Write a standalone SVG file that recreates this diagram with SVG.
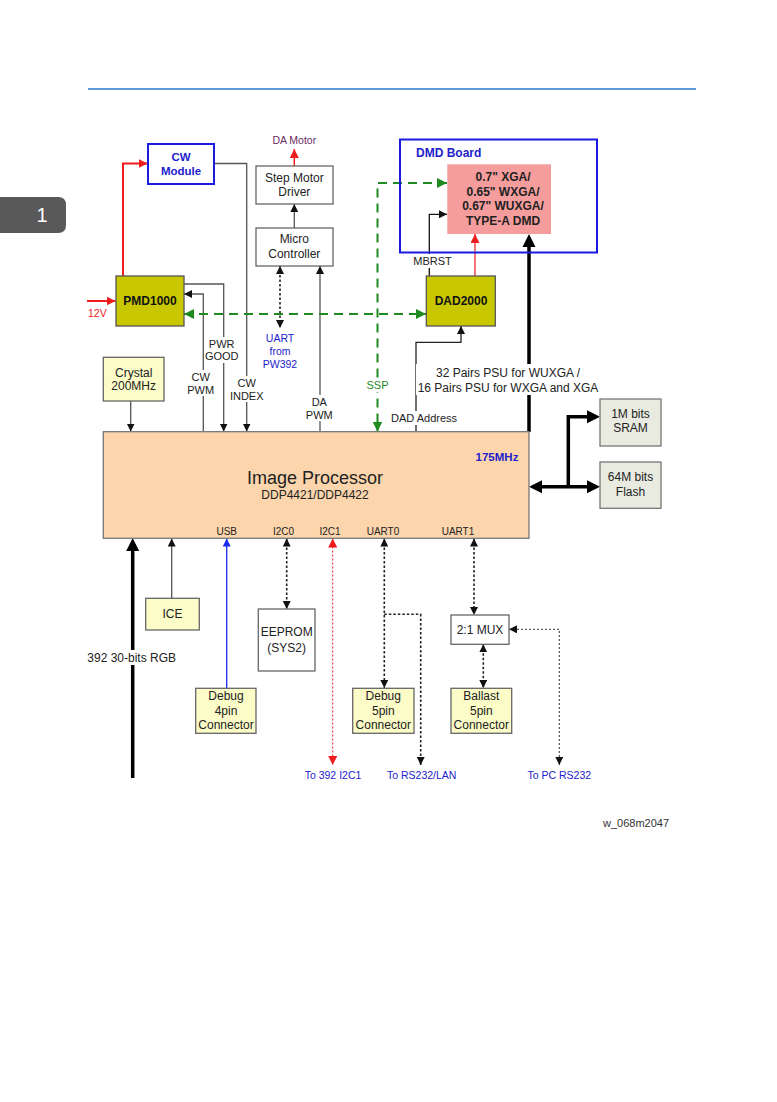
<svg xmlns="http://www.w3.org/2000/svg" width="777" height="1102" viewBox="0 0 777 1102">
<style>
.t{font-family:"Liberation Sans",Arial,sans-serif;font-size:12px;fill:#222;text-anchor:middle}
.s{font-size:11px}
.b{font-weight:bold}
.blue{fill:#2222cc}
.box{fill:#fff;stroke:#666;stroke-width:1.3}
.yel{fill:#fcfcc8;stroke:#666;stroke-width:1.3}
.olive{fill:#c9c800;stroke:#555;stroke-width:1.3}
.ln{stroke:#555;stroke-width:1.3;fill:none}
.dot{stroke:#222;stroke-width:1.6;stroke-dasharray:2.5,2;fill:none}
.bg{fill:#fff}
</style>
<defs>
<marker id="ab" viewBox="0 0 10 10" refX="10" refY="5" markerWidth="8" markerHeight="8" markerUnits="userSpaceOnUse" orient="auto-start-reverse"><path d="M0,0 L10,5 L0,10 z" fill="#111"/></marker>
<marker id="ar" viewBox="0 0 10 10" refX="10" refY="5" markerWidth="9" markerHeight="9" markerUnits="userSpaceOnUse" orient="auto-start-reverse"><path d="M0,0 L10,5 L0,10 z" fill="#ee1c1c"/></marker>
<marker id="ag" viewBox="0 0 10 10" refX="10" refY="5" markerWidth="10" markerHeight="10" markerUnits="userSpaceOnUse" orient="auto-start-reverse"><path d="M0,0 L10,5 L0,10 z" fill="#1f8a1f"/></marker>
<marker id="au" viewBox="0 0 10 10" refX="10" refY="5" markerWidth="8" markerHeight="8" markerUnits="userSpaceOnUse" orient="auto-start-reverse"><path d="M0,0 L10,5 L0,10 z" fill="#1a2aee"/></marker>
</defs>
<rect width="777" height="1102" fill="#fff"/>
<line x1="88" y1="89" x2="696" y2="89" stroke="#5b9bd5" stroke-width="2"/>
<path d="M0,197 H58 Q66,197 66,205 V225 Q66,233 58,233 H0 Z" fill="#595959"/>
<text x="42" y="222" style="font-family:'Liberation Sans',Arial,sans-serif;font-size:20px;fill:#fff;text-anchor:middle">1</text>

<g id="connectors">
<path d="M123,276 V163.5 H147.5" stroke="#ee1c1c" stroke-width="2" fill="none" marker-end="url(#ar)"/>
<path d="M87,301 H115.5" stroke="#ee1c1c" stroke-width="2" fill="none" marker-end="url(#ar)"/>
<path class="ln" d="M214,163.5 H246.7 V431.5" marker-end="url(#ab)"/>
<path class="ln" d="M184,284 H223.7 V431.5" marker-end="url(#ab)"/>
<path class="ln" d="M203.3,431.5 V294 H184" marker-end="url(#ab)"/>
<path class="ln" d="M294.3,228 V204" marker-end="url(#ab)"/>
<path d="M294.3,166 V149" stroke="#ee1c1c" stroke-width="1.5" fill="none" marker-end="url(#ar)"/>
<path class="dot" d="M280,266 V328" marker-start="url(#ab)" marker-end="url(#ab)"/>
<path class="ln" d="M320,431.5 V266" marker-end="url(#ab)"/>
<path d="M184,314 H426" stroke="#1f8a1f" stroke-width="2" stroke-dasharray="9,6" fill="none" marker-start="url(#ag)" marker-end="url(#ag)"/>
<path d="M447,183 H377.5 V431.5" stroke="#1f8a1f" stroke-width="2" stroke-dasharray="9,6" fill="none" marker-start="url(#ag)" marker-end="url(#ag)"/>
<path d="M429.3,276 V214.3 H447" stroke="#111" stroke-width="1.3" fill="none" marker-end="url(#ab)"/>
<path d="M475,276 V234" stroke="#f04848" stroke-width="1.5" fill="none" marker-end="url(#ar)"/>
<path d="M416,432 V342.3 H461 V326" stroke="#222" stroke-width="1.3" fill="none" marker-end="url(#ab)"/>
<path d="M529,432 V246" stroke="#000" stroke-width="3.5" fill="none"/>
<polygon points="529,234 522.5,247 535.5,247" fill="#000"/>
<path d="M541,486.7 H588 M568.3,486.7 V416.7 H588" stroke="#000" stroke-width="3.5" fill="none"/>
<polygon points="529,486.7 542,480.2 542,493.2" fill="#000"/>
<polygon points="600,486.7 587,480.2 587,493.2" fill="#000"/>
<polygon points="600,416.7 587,410.2 587,423.2" fill="#000"/>
<path class="ln" d="M130.7,401 V431.5" marker-end="url(#ab)"/>
<path d="M132.7,778 V550" stroke="#000" stroke-width="3.5" fill="none"/>
<polygon points="132.7,538 126.2,551 139.2,551" fill="#000"/>
<path class="ln" d="M171.7,598.3 V538.5" marker-end="url(#ab)"/>
<path d="M226.7,688.3 V538.5" stroke="#1a2aee" stroke-width="1.3" fill="none" marker-end="url(#au)"/>
<path class="dot" d="M286.7,538.5 V609" marker-start="url(#ab)" marker-end="url(#ab)"/>
<path d="M332.7,538.5 V765" stroke="#ee1c1c" stroke-width="1" stroke-dasharray="2,2" fill="none" marker-start="url(#ar)" marker-end="url(#ar)"/>
<path class="dot" d="M384.3,538.5 V688" marker-start="url(#ab)" marker-end="url(#ab)"/>
<path class="dot" d="M384.3,614.3 H420.7 V765" stroke-width="1.2" marker-end="url(#ab)"/>
<path class="dot" d="M474,538.5 V615" marker-start="url(#ab)" marker-end="url(#ab)"/>
<path class="dot" d="M483.3,644.3 V688" marker-start="url(#ab)" marker-end="url(#ab)"/>
<path d="M509,629.3 H559.3 V765" stroke="#333" stroke-width="1" stroke-dasharray="2,2" fill="none" marker-start="url(#ab)" marker-end="url(#ab)"/>

<rect class="bg" x="205" y="337" width="34" height="26"/>
<text class="t s" x="221.7" y="348">PWR</text>
<text class="t s" x="221.7" y="360">GOOD</text>
<rect class="bg" x="186" y="370" width="30" height="26"/>
<text class="t s" x="200.7" y="381">CW</text>
<text class="t s" x="200.7" y="394">PWM</text>
<rect class="bg" x="228" y="376" width="38" height="26"/>
<text class="t s" x="246.7" y="387">CW</text>
<text class="t s" x="246.7" y="400">INDEX</text>
<rect class="bg" x="304" y="395" width="32" height="26"/>
<text class="t s" x="319.3" y="406">DA</text>
<text class="t s" x="319.3" y="419">PWM</text>
<text class="t blue" x="280" y="342" style="font-size:10.5px">UART</text>
<text class="t blue" x="280" y="355" style="font-size:10.5px">from</text>
<text class="t blue" x="280" y="368" style="font-size:10.5px">PW392</text>
<rect class="bg" x="364" y="378" width="27" height="14"/>
<text class="t s" x="377.5" y="389" style="fill:#1f8a1f">SSP</text>
<text class="t" x="294.3" y="144" style="font-size:10.5px;fill:#6a2a60">DA Motor</text>
<rect class="bg" x="413" y="254" width="38" height="14"/>
<text class="t s" x="432.5" y="265">MBRST</text>
<rect class="bg" x="389" y="411" width="70" height="14"/>
<text class="t s" x="391" y="422" style="text-anchor:start">DAD Address</text>
<rect class="bg" x="416" y="364" width="186" height="31"/>
<text class="t" x="508" y="377">32 Pairs PSU for WUXGA /</text>
<text class="t" x="508" y="392">16 Pairs PSU for WXGA and XGA</text>
<rect class="bg" x="86" y="650" width="92" height="15"/>
<text class="t" x="131.7" y="662">392 30-bits RGB</text>
<text class="t blue" x="333" y="779" style="font-size:10.5px">To 392 I2C1</text>
<text class="t blue" x="421.7" y="779" style="font-size:10.5px">To RS232/LAN</text>
<text class="t blue" x="559.3" y="779" style="font-size:10.5px">To PC RS232</text>
</g>

<g id="cw-module">
<rect x="148" y="144" width="66" height="40" fill="#fff" stroke="#1a1ae0" stroke-width="2"/>
<text class="t b blue" x="181" y="161" style="font-size:11.5px">CW</text>
<text class="t b blue" x="181" y="175" style="font-size:11.5px">Module</text>
</g>
<g id="pmd1000">
<rect class="olive" x="116" y="276" width="68" height="50"/>
<text class="t b" x="150" y="305" style="fill:#111">PMD1000</text>
</g>
<text class="t" x="88" y="317" style="text-anchor:start;font-size:10.5px;fill:#ee1c1c">12V</text>
<g id="step-motor-driver">
<rect class="box" x="256" y="166" width="77" height="38"/>
<text class="t" x="294.3" y="181.8">Step Motor</text>
<text class="t" x="294.3" y="196">Driver</text>
</g>
<g id="micro-controller">
<rect class="box" x="256" y="228" width="77" height="38"/>
<text class="t" x="294.3" y="242.5">Micro</text>
<text class="t" x="294.3" y="257.5">Controller</text>
</g>
<g id="dmd-board">
<rect x="400" y="139.5" width="197" height="113" fill="none" stroke="#1a1ae0" stroke-width="2"/>
<text class="t b blue" x="416" y="157" style="text-anchor:start">DMD Board</text>
</g>
<g id="dmd-chip">
<rect x="447.3" y="164.3" width="103.7" height="69.7" fill="#f59d9d"/>
<text class="t b" x="503" y="181.3">0.7" XGA/</text>
<text class="t b" x="503" y="195.8">0.65" WXGA/</text>
<text class="t b" x="503" y="210.3">0.67" WUXGA/</text>
<text class="t b" x="503" y="224.8">TYPE-A DMD</text>
</g>
<g id="dad2000">
<rect class="olive" x="426.3" y="276" width="69" height="50"/>
<text class="t b" x="461" y="305" style="fill:#111">DAD2000</text>
</g>
<g id="crystal">
<rect class="yel" x="103.3" y="357.3" width="60.7" height="43.7"/>
<text class="t" x="133.7" y="376.5">Crystal</text>
<text class="t" x="133.7" y="390.3">200MHz</text>
</g>
<g id="sram">
<rect x="600" y="399" width="61" height="47" fill="#e9ebe1" stroke="#777" stroke-width="1.3"/>
<text class="t" x="630.5" y="418.3">1M bits</text>
<text class="t" x="630.5" y="432.3">SRAM</text>
</g>
<g id="flash">
<rect x="600" y="462" width="61" height="46.3" fill="#e9ebe1" stroke="#777" stroke-width="1.3"/>
<text class="t" x="630.5" y="481">64M bits</text>
<text class="t" x="630.5" y="496">Flash</text>
</g>
<g id="image-processor">
<rect x="103.3" y="431.7" width="425.7" height="106.6" fill="#fcd5ac" stroke="#777" stroke-width="1.3"/>
<text class="t" x="315" y="483.5" style="font-size:18px">Image Processor</text>
<text class="t" x="315" y="499.3">DDP4421/DDP4422</text>
<text class="t b blue" x="497" y="461" style="font-size:11.5px">175MHz</text>
<text class="t" x="226.7" y="535" style="font-size:10px">USB</text>
<text class="t" x="283.5" y="535" style="font-size:10px">I2C0</text>
<text class="t" x="330" y="535" style="font-size:10px">I2C1</text>
<text class="t" x="383" y="535" style="font-size:10px">UART0</text>
<text class="t" x="458" y="535" style="font-size:10px">UART1</text>
</g>
<g id="ice">
<rect class="yel" x="145.7" y="598.3" width="53.6" height="31.7"/>
<text class="t" x="172.5" y="618.3">ICE</text>
</g>
<g id="debug-4pin">
<rect class="yel" x="195.7" y="688.3" width="60.3" height="45"/>
<text class="t" x="226" y="700">Debug</text>
<text class="t" x="226" y="715">4pin</text>
<text class="t" x="226" y="729.3">Connector</text>
</g>
<g id="eeprom">
<rect class="box" x="258.3" y="609" width="56.7" height="62"/>
<text class="t" x="286.7" y="636">EEPROM</text>
<text class="t" x="286.7" y="651.5">(SYS2)</text>
</g>
<g id="debug-5pin">
<rect class="yel" x="352.7" y="688.3" width="61.3" height="45"/>
<text class="t" x="383.3" y="700">Debug</text>
<text class="t" x="383.3" y="715">5pin</text>
<text class="t" x="383.3" y="729.3">Connector</text>
</g>
<g id="mux">
<rect class="box" x="451" y="615" width="58" height="29.3"/>
<text class="t" x="480" y="633.8">2:1 MUX</text>
</g>
<g id="ballast-5pin">
<rect class="yel" x="451" y="688.3" width="60.7" height="45"/>
<text class="t" x="481.3" y="700">Ballast</text>
<text class="t" x="481.3" y="715">5pin</text>
<text class="t" x="481.3" y="729.3">Connector</text>
</g>
<text class="t s" x="603" y="827" style="text-anchor:start;fill:#333">w_068m2047</text>
</svg>
